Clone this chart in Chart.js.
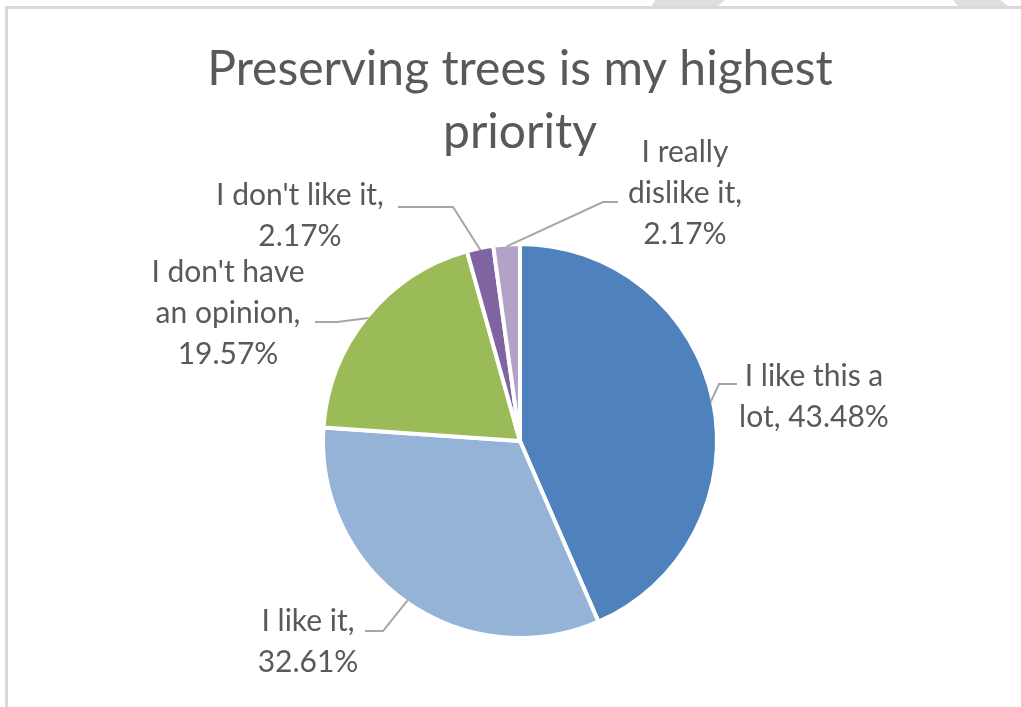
<!DOCTYPE html>
<html>
<head>
<meta charset="utf-8">
<script src="https://cdn.jsdelivr.net/npm/chart.js@4.4.1/dist/chart.umd.min.js"></script>
<style>
  html, body { margin: 0; padding: 0; background: #fff; }
  #wrap { position: relative; width: 1021px; height: 707px; overflow: hidden; }
  #frame { position: absolute; left: 5px; top: 6px; right: -10px; bottom: -10px;
           border-top: 3px solid #d9d9d9; border-left: 3px solid #d9d9d9; }
  .notch { position: absolute; top: 0; height: 6px; background: #dedede; }
  canvas { position: absolute; left: 0; top: 0; }
</style>
</head>
<body>
<div id="wrap">
  <div id="frame"></div>
  <div class="notch" style="left:652px;width:73px;clip-path:polygon(4% 0,100% 0,90% 100%,0 100%)"></div>
  <div class="notch" style="left:953px;width:55px;clip-path:polygon(0 0,86% 0,100% 100%,9% 100%)"></div>
  <canvas id="mychart" width="1021" height="707"></canvas>
</div>
<script>
// data
var categories = ["I like this a lot", "I like it", "I don't have an opinion", "I don't like it", "I really dislike it"];
var percents = [43.48, 32.61, 19.57, 2.17, 2.17];
var colors = ["#4f81bd", "#95b3d7", "#9bbb59", "#8064a2", "#b3a2c7"];
var chartTitle = ["Preserving trees is my highest", "priority"];

// label placement (words per line, text centre, leader elbow and end)
var labelLayout = [
    { words: [4, 2],    cx: 814, cy: 397, elbow: [719, 384], end: [737, 384] },
    { words: [3, 1],    cx: 308, cy: 642, elbow: [383, 631], end: [365, 631] },
    { words: [3, 2, 1], cx: 228, cy: 313, elbow: [337, 322], end: [315, 322] },
    { words: [4, 1],    cx: 300, cy: 216, elbow: [453, 207], end: [398, 207] },
    { words: [2, 2, 1], cx: 685, cy: 193, elbow: [603, 202], end: [618, 202] }
];

var textColor = "#595959";

// draws the title, the data labels and their leader lines
var labelPlugin = {
    id: "pieLabels",
    afterDatasetsDraw: function(chart) {
        var ctx = chart.ctx;
        var arcs = chart.getDatasetMeta(0).data;
        ctx.save();

        // title
        ctx.fillStyle = textColor;
        ctx.textAlign = "center";
        ctx.textBaseline = "middle";
        ctx.font = "48px Lato";
        ctx.fillText(chartTitle[0], 520, 70);
        ctx.fillText(chartTitle[1], 520, 133);

        ctx.font = "30px Lato";
        arcs.forEach(function(arc, i) {
            var p = arc.getProps(["x", "y", "startAngle", "endAngle", "outerRadius"], true);
            var mid = (p.startAngle + p.endAngle) / 2;
            var r = p.outerRadius - 2;
            var sx = p.x + Math.cos(mid) * r;
            var sy = p.y + Math.sin(mid) * r;
            var lay = labelLayout[i];

            // leader line
            ctx.strokeStyle = "#a6a6a6";
            ctx.lineWidth = 2;
            ctx.beginPath();
            ctx.moveTo(sx, sy);
            ctx.lineTo(lay.elbow[0], lay.elbow[1]);
            ctx.lineTo(lay.end[0], lay.end[1]);
            ctx.stroke();

            // text
            var text = categories[i] + ", " + percents[i].toFixed(2) + "%";
            var parts = text.split(" ");
            var lines = [];
            var k = 0;
            lay.words.forEach(function(n) {
                lines.push(parts.slice(k, k + n).join(" "));
                k += n;
            });
            var lh = 41;
            var y0 = lay.cy - (lines.length - 1) * lh / 2;
            ctx.fillStyle = textColor;
            lines.forEach(function(line, j) {
                ctx.fillText(line, lay.cx, y0 + j * lh);
            });
        });
        ctx.restore();
    }
};

window.addEventListener("load", function() {
    var canvas = document.getElementById("mychart").getContext("2d");
    var myChart = new Chart(canvas, {
        type: "pie",
        data: {
            labels: categories,
            datasets: [{
                data: percents,
                backgroundColor: colors,
                borderColor: "#ffffff",
                borderWidth: 4
            }]
        },
        options: {
            responsive: false,
            animation: false,
            layout: { padding: { left: 321, right: 302, top: 242, bottom: 67 } },
            plugins: {
                legend: { display: false },
                tooltip: { enabled: false },
                title: { display: false }
            }
        },
        plugins: [labelPlugin]
    });
});
</script>
</body>
</html>
